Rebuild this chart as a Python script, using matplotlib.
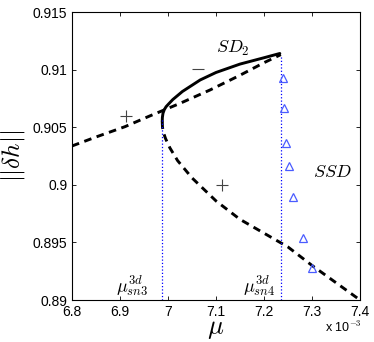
import matplotlib
matplotlib.use("Agg")
import matplotlib.pyplot as plt

plt.rcParams['font.family'] = ['Liberation Sans', 'DejaVu Sans']
plt.rcParams['mathtext.fontset'] = 'cm'

# data (mu in units of 1e-3)
upper_unstable_mu = [6.80, 6.85, 6.91, 6.96, 7.025, 7.0875, 7.15, 7.20, 7.235]
upper_unstable_y = [0.90337, 0.90415, 0.90504, 0.90594, 0.90707, 0.90823, 0.90951, 0.91060, 0.91130]

stable_mu = [6.988, 6.9883, 6.9895, 6.992, 6.996, 7.002, 7.010, 7.030, 7.067, 7.100, 7.150, 7.200, 7.233]
stable_y = [0.90550, 0.90585, 0.90620, 0.90650, 0.90678, 0.90705, 0.90740, 0.90810, 0.90910, 0.90975, 0.91048, 0.91103, 0.91140]

lower_unstable_mu = [6.988, 6.9885, 6.990, 6.995, 7.004, 7.02, 7.05, 7.10, 7.15, 7.20, 7.25, 7.30, 7.35, 7.40]
lower_unstable_y = [0.90550, 0.90500, 0.90460, 0.90400, 0.90320, 0.90210, 0.90060, 0.89860, 0.89700, 0.89580, 0.89460, 0.89300, 0.89150, 0.89000]

ssd_mu = [7.239, 7.2417, 7.2458, 7.252, 7.261, 7.2806, 7.3007]
ssd_y = [0.9093, 0.90664, 0.90365, 0.90163, 0.89897, 0.89536, 0.89275]

plus_mu = [6.912, 7.112]
plus_y = [0.90597, 0.89998]
minus_mu = [7.0615]
minus_y = [0.91003]

mu_sn3 = 6.988
mu_sn3_top = 0.9058
mu_sn4 = 7.2354
mu_sn4_top = 0.91127

xticks = [6.8, 6.9, 7.0, 7.1, 7.2, 7.3, 7.4]
xticklabels = ['6.8', '6.9', '7', '7.1', '7.2', '7.3', '7.4']
yticks = [0.89, 0.895, 0.9, 0.905, 0.91, 0.915]
yticklabels = ['0.89', '0.895', '0.9', '0.905', '0.91', '0.915']

fig = plt.figure(figsize=(3.74, 3.42), dpi=100)
ax = fig.add_axes([0.1925, 0.1228, 0.7701, 0.8421])

dash = (0, (2.6, 1.9))
ax.plot(upper_unstable_mu, upper_unstable_y, color='black', lw=2.1, linestyle=dash, dash_capstyle='butt')
ax.plot(lower_unstable_mu, lower_unstable_y, color='black', lw=2.1, linestyle=dash, dash_capstyle='butt')
ax.plot(stable_mu, stable_y, color='black', lw=2.1, solid_capstyle='round', solid_joinstyle='round')

ax.plot([mu_sn3, mu_sn3], [0.89, mu_sn3_top], color='blue', lw=0.9, linestyle=':')
ax.plot([mu_sn4, mu_sn4], [0.89, mu_sn4_top], color='blue', lw=0.9, linestyle=':')

ax.plot(ssd_mu, ssd_y, linestyle='none', marker='^', markersize=6,
        markerfacecolor='none', markeredgecolor='#4a5cff', markeredgewidth=0.9)

ax.plot(plus_mu, plus_y, linestyle='none', marker='+', markersize=8, color='#444444', markeredgewidth=0.8)
ax.plot(minus_mu, minus_y, linestyle='none', marker='_', markersize=8, color='#444444', markeredgewidth=0.8)

ax.text(7.101, 0.9118, r'$SD_2$', fontsize=13, va='center', ha='left')
ax.text(7.302, 0.9011, r'$SSD$', fontsize=13, va='center', ha='left')
ax.text(6.925, 0.8902, r'$\mu^{3d}_{sn3}$', fontsize=13, va='bottom', ha='center')
ax.text(7.190, 0.8902, r'$\mu^{3d}_{sn4}$', fontsize=13, va='bottom', ha='center')

ax.set_xlim(6.8, 7.4)
ax.set_ylim(0.89, 0.915)
ax.set_xticks(xticks)
ax.set_xticklabels(xticklabels)
ax.set_yticks(yticks)
ax.set_yticklabels(yticklabels)
ax.tick_params(direction='in', top=True, right=True, labelsize=10, length=3, width=0.6)
for s in ax.spines.values():
    s.set_linewidth(0.8)

ax.set_xlabel(r'$\mu$', fontsize=19, labelpad=-1)
ax.set_ylabel(r'$||\delta h||$', fontsize=18, labelpad=4)
fig.text(0.87, 0.02, r'x 10$^{-3}$', fontsize=9, ha='left', va='bottom')

fig.savefig('out.png', dpi=100)
